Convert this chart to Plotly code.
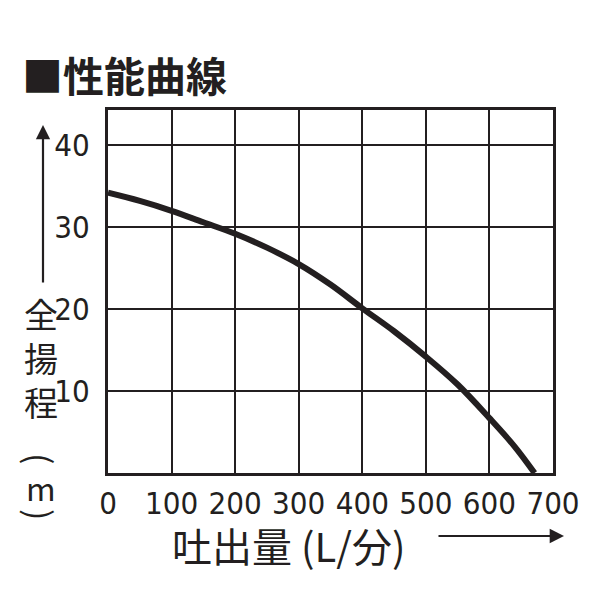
import plotly.graph_objects as go

flow = [0, 50, 100, 150, 200, 250, 300, 350, 400, 450, 500, 550, 600, 640, 671]
head = [34.2, 33.2, 32.0, 30.6, 29.2, 27.5, 25.5, 23.0, 20.1, 17.3, 14.2, 10.8, 6.7, 3.2, 0]
x_ticks = [0, 100, 200, 300, 400, 500, 600, 700]
y_ticks = [10, 20, 30, 40]

INK = "#231f20"
CJK = "Noto Sans CJK JP"
NUM = "DejaVu Sans Condensed, DejaVu Sans, sans-serif"

# page offset of the figure (body margin) is 8px; work in page pixels
OFF = 8
PL, PR, PT, PB = 108, 553, 110, 473  # plot area in page pixels
W = H = 584

fig = go.Figure()
fig.add_trace(go.Scatter(x=flow, y=head, mode="lines",
                         line=dict(color=INK, width=6, shape="spline"),
                         hoverinfo="skip", showlegend=False))

fig.update_layout(
    width=W, height=H,
    margin=dict(l=PL - OFF, r=W - (PR - OFF), t=PT - OFF, b=H - (PB - OFF)),
    paper_bgcolor="white", plot_bgcolor="white",
    xaxis=dict(range=[0, 700], tickvals=x_ticks, ticktext=[str(v) for v in x_ticks],
               showgrid=True, gridcolor=INK, gridwidth=1.6,
               showline=True, linecolor=INK, linewidth=3, mirror=True,
               ticks="", zeroline=False, ticklabelstandoff=1, tickangle=0,
               tickfont=dict(family=NUM, size=31, color=INK)),
    yaxis=dict(range=[0, 44.3], tickvals=y_ticks, ticktext=[str(v) for v in y_ticks],
               showgrid=True, gridcolor=INK, gridwidth=1.6,
               showline=True, linecolor=INK, linewidth=3, mirror=True,
               ticks="", zeroline=False, ticklabelstandoff=9,
               tickfont=dict(family=NUM, size=31, color=INK)),
)

def px_x(px):
    return (px - PL) / (PR - PL)

def px_y(py):
    return (PB - py) / (PB - PT)

# Title
fig.add_annotation(xref="paper", yref="paper", x=px_x(20), y=px_y(74),
                   xanchor="left", yanchor="middle", showarrow=False,
                   text="<b>■性能曲線</b>",
                   font=dict(family=CJK, size=41, color=INK))

# Y label (vertical)
ychars = [("全", 313, 0, 34), ("揚", 357, 0, 34), ("程", 401, 0, 34),
          ("(", 459, 90, 34), ("m", 487, 0, 32), (")", 515, 90, 34)]
for ch, py, ang, sz in ychars:
    fig.add_annotation(xref="paper", yref="paper", x=px_x(41), y=px_y(py),
                       xanchor="center", yanchor="middle", showarrow=False,
                       text=ch, textangle=ang,
                       font=dict(family=CJK, size=sz, color=INK))

# Y arrow
fig.add_annotation(xref="x domain", yref="y domain", x=px_x(43), y=px_y(125),
                   ax=px_x(43), ay=px_y(284), axref="x domain", ayref="y domain",
                   showarrow=True, arrowhead=2, arrowsize=1.3, arrowwidth=2.2,
                   arrowcolor=INK, text="")

# X label
fig.add_annotation(xref="paper", yref="paper", x=px_x(170), y=px_y(545),
                   xanchor="left", yanchor="middle", showarrow=False,
                   text="吐出量 (L/分)", font=dict(family=CJK, size=40, color=INK))

# X arrow
fig.add_annotation(xref="x domain", yref="y domain", x=px_x(564), y=px_y(536),
                   ax=px_x(437), ay=px_y(536), axref="x domain", ayref="y domain",
                   showarrow=True, arrowhead=2, arrowsize=1.3, arrowwidth=2.2,
                   arrowcolor=INK, text="")

fig.write_html("out.html")
